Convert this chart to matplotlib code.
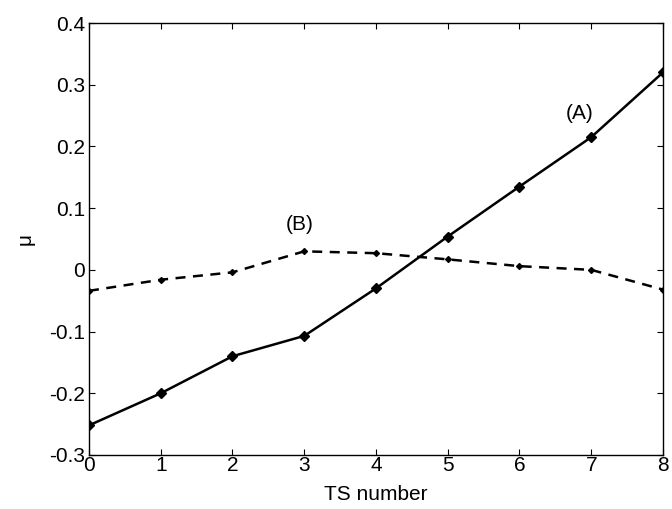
import matplotlib
matplotlib.use("Agg")
import matplotlib.pyplot as plt

plt.rcParams['font.family'] = ['Liberation Sans', 'DejaVu Sans']

ts = [0, 1, 2, 3, 4, 5, 6, 7, 8]
mu_a = [-0.252, -0.200, -0.140, -0.107, -0.030, 0.054, 0.135, 0.215, 0.320]
mu_b = [-0.034, -0.016, -0.004, 0.030, 0.027, 0.017, 0.006, 0.000, -0.032]
yticks = [-0.3, -0.2, -0.1, 0, 0.1, 0.2, 0.3, 0.4]
ylabels = ['-0.3', '-0.2', '-0.1', '0', '0.1', '0.2', '0.3', '0.4']

FS = 15

fig = plt.figure(figsize=(6.72, 5.09), dpi=100)
ax = fig.add_axes([0.1324, 0.1061, 0.8542, 0.8487])

ax.plot(ts, mu_a, '-', color='black', lw=1.8, marker='D', ms=5)
ax.plot(ts, mu_b, '--', color='black', lw=1.8, marker='D', ms=3, dashes=(4, 3))

ax.text(6.84, 0.254, '(A)', fontsize=FS, ha='center', va='center')
ax.text(2.93, 0.073, '(B)', fontsize=FS, ha='center', va='center')

ax.set_xlim(0, 8)
ax.set_ylim(-0.3, 0.4)
ax.set_xticks(ts)
ax.set_yticks(yticks)
ax.set_yticklabels(ylabels)
ax.tick_params(direction='in', top=True, right=True, labelsize=FS, length=4,
               width=0.8, pad=3)
ax.tick_params(axis='x', pad=1)
for s in ax.spines.values():
    s.set_linewidth(1.0)

ax.set_xlabel('TS number', fontsize=FS, labelpad=7)
ax.set_ylabel('μ', fontsize=FS, labelpad=10)

fig.savefig('out.png', dpi=100)
